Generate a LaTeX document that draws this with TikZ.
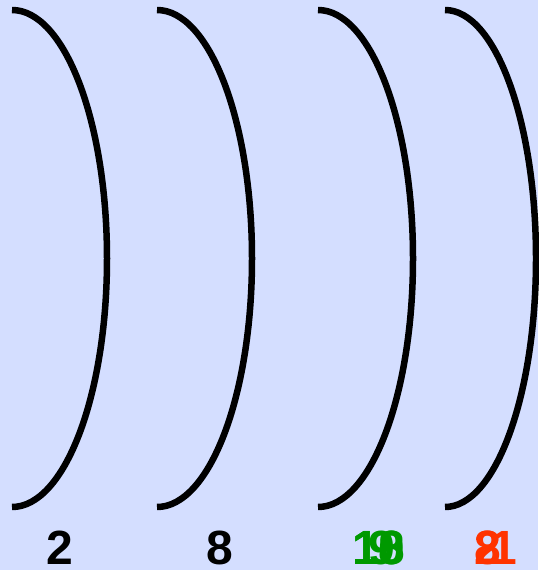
\documentclass[tikz,border=0pt]{standalone}
\usepackage{fontspec}
\setmainfont{Liberation Sans}
\definecolor{bgblue}{RGB}{212,222,255}
\definecolor{shellgreen}{RGB}{0,153,0}
\definecolor{shellred}{RGB}{255,51,0}
\begin{document}
\begin{tikzpicture}[x=1pt,y=-1pt]
    \tikzstyle{shell} = [line width=6.5pt]
    \tikzstyle{count} = [font=\fontsize{48}{48}\selectfont\bfseries, inner sep=0pt, anchor=base]

    \fill [bgblue] (0,0) rectangle (538,570);
    \useasboundingbox (0,0) rectangle (538,570);

    % shells
    \foreach \x/\r in {12/95, 157/95, 318/95, 445/91}
        \draw [shell] (\x,10) arc [start angle=-90, end angle=90, x radius=\r, y radius=248.5];

    % electron counts
    \node [count] (k) at (60,564) {2};
    \node [count] (l) at (220,564) {8};
    \node [count, text=shellgreen] (m1) at (379,564) {18};
    \node [count, text=shellgreen] (m2) at (379,564) {10};
    \node [count, text=shellgreen] (m3) at (382,564) {9};
    \node [count, text=shellred] (n1) at (488,564) {8};
    \node [count, text=shellred] (n2) at (488,564) {2};
    \node [count, text=shellred] (n3) at (504,564) {1};
\end{tikzpicture}
\end{document}
